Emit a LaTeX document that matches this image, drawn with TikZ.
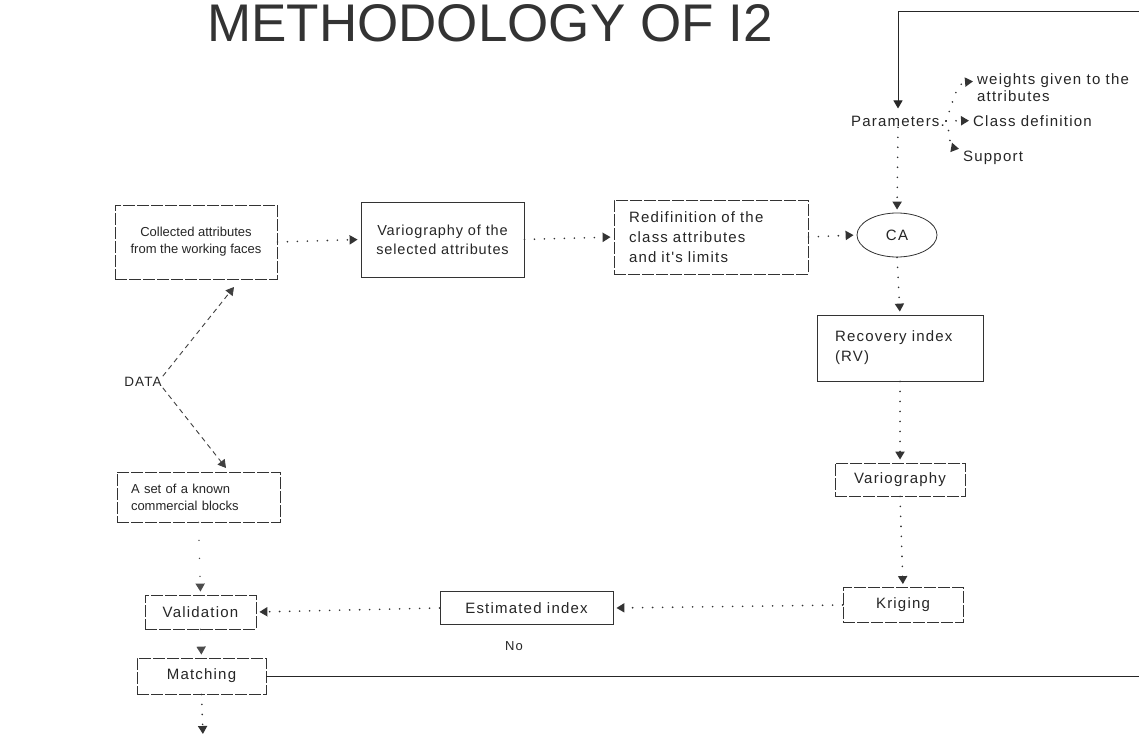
\documentclass[tikz,border=0pt]{standalone}
\usepackage{fontspec}
\setmainfont{Liberation Sans}
\newfontfamily\widefont[LetterSpace=8]{Liberation Sans}
\newfontfamily\midfont[LetterSpace=6]{Liberation Sans}
\usetikzlibrary{arrows.meta,shapes.geometric}
\tikzset{
  box/.style={draw=black!80, line width=0.8pt, inner sep=0pt, align=center, text=black!85},
  dbox/.style={box, dash pattern=on 12pt off 2pt},
  bigtxt/.style={font=\widefont\fontsize{15}{20}\selectfont, text=black!85},
  midtxt/.style={font=\midfont\fontsize{14.5}{19}\selectfont},
  smalltxt/.style={font=\fontsize{13}{17}\selectfont},
  tip/.style={-{Triangle[width=9pt,length=8pt]}},
  dotline/.style={draw=black!80, line width=1.8pt, dash pattern=on 0pt off 10pt, line cap=round, tip, shorten >=3pt},
  sparse/.style={draw=black!70, line width=1.6pt, dash pattern=on 0pt off 18pt, line cap=round, tip, shorten >=3pt},
  dashline/.style={draw=black!75, line width=0.9pt, dash pattern=on 5pt off 4pt, tip},
  solidline/.style={draw=black!85, line width=1pt, tip, shorten >=6pt},
}
\begin{document}
\begin{tikzpicture}[x=1pt,y=-1pt]
\useasboundingbox (0,0) rectangle (1139,749);
\fill[white] (0,0) rectangle (1139,749);

% title
\node[anchor=base, font=\fontsize{53}{60}\selectfont, text=black!80, inner sep=0] (title) at (490,42) {METHODOLOGY OF I2};

% top row
\node[dbox, smalltxt, minimum width=162pt, minimum height=74pt] (coll) at (196,242) {Collected attributes\\from the working faces};
\node[box, midtxt, minimum width=163pt, minimum height=75pt] (var1) at (442.5,239.5) {Variography of the\\selected attributes};
\node[dbox, bigtxt, minimum width=194pt, minimum height=74pt, text width=164pt, align=left] (redef) at (711,237) {Redifinition of the\\class attributes\\and it's limits};
\node[ellipse, draw=black!80, line width=0.8pt, minimum width=80pt, minimum height=44pt, inner sep=0pt, bigtxt] (ca) at (897,235) {CA};

% parameters
\node[bigtxt, anchor=base, inner sep=1pt] (par) at (898,126) {Parameters.};
\node[bigtxt, anchor=base west, inner sep=1pt] (w1) at (976,85) {weights given to the};
\node[bigtxt, anchor=base west, inner sep=1pt] (w2) at (976,102) {attributes};
\node[bigtxt, anchor=base west, inner sep=1pt] (cd) at (972,126) {Class definition};
\node[bigtxt, anchor=base west, inner sep=1pt] (sup) at (962,161) {Support};
\coordinate (top) at (0,12);
\coordinate (farright) at (1150,0);

% right column
\node[box, bigtxt, minimum width=166pt, minimum height=66pt, text width=130pt, align=left] (rec) at (900,348) {Recovery index\\(RV)};
\node[dbox, bigtxt, minimum width=130pt, minimum height=33pt] (var2) at (900,479.5) {Variography};
\node[dbox, bigtxt, minimum width=120pt, minimum height=35pt] (krig) at (903,605) {Kriging};
\node[box, bigtxt, minimum width=173pt, minimum height=33pt] (est) at (526.5,608) {Estimated index};

% left column
\node[bigtxt, font=\widefont\fontsize{13.5}{17}\selectfont, inner sep=1pt] (data) at (143,382) {DATA};
\node[dbox, smalltxt, minimum width=163pt, minimum height=50pt, text width=135pt, align=left] (aset) at (198.5,497) {A set of a known\\commercial blocks};
\node[dbox, bigtxt, minimum width=111pt, minimum height=34pt] (valid) at (200.5,612) {Validation};
\node[dbox, bigtxt, minimum width=129pt, minimum height=36pt] (match) at (201.5,676) {Matching};
\node[bigtxt, font=\widefont\fontsize{13}{16}\selectfont] (no) at (514,646) {No};
\coordinate (c1) at (234,287);
\coordinate (c2) at (226,468);
\coordinate (endm) at (203,737);

% connectors
\draw[dotline] (coll.east) -- (var1.west);
\draw[dotline] (var1.east) -- (redef.west);
\draw[dotline] (redef.east) -- (ca.west);
\draw[dotline] (par.south) -- (ca.north);
\draw[dotline] (par.east) to[out=70,in=185] (w1.west);
\draw[dotline] (par.east) -- (cd.west);
\draw[dotline] (par.east) to[out=-70,in=170] (sup.north west);
\draw[dotline] (ca.south) -- (rec.north);
\draw[dotline] (rec.south) -- (var2.north);
\draw[dotline] (var2.south) -- (krig.north);
\draw[dotline] (krig.west) -- (est.east);
\draw[dotline] (est.west) -- (valid.east);
\draw[sparse] (aset.south) -- (valid.north);
\draw[sparse] (valid.south) -- (match.north);
\draw[dotline] (match.south) -- (endm);
\draw[dashline] (data.north east) -- (c1);
\draw[dashline] (data.south east) -- (c2);
\draw[solidline] (match.east) -- (match.east -| farright) -- (farright |- top) -- (par.north |- top) -- (par.north);
\end{tikzpicture}
\end{document}
